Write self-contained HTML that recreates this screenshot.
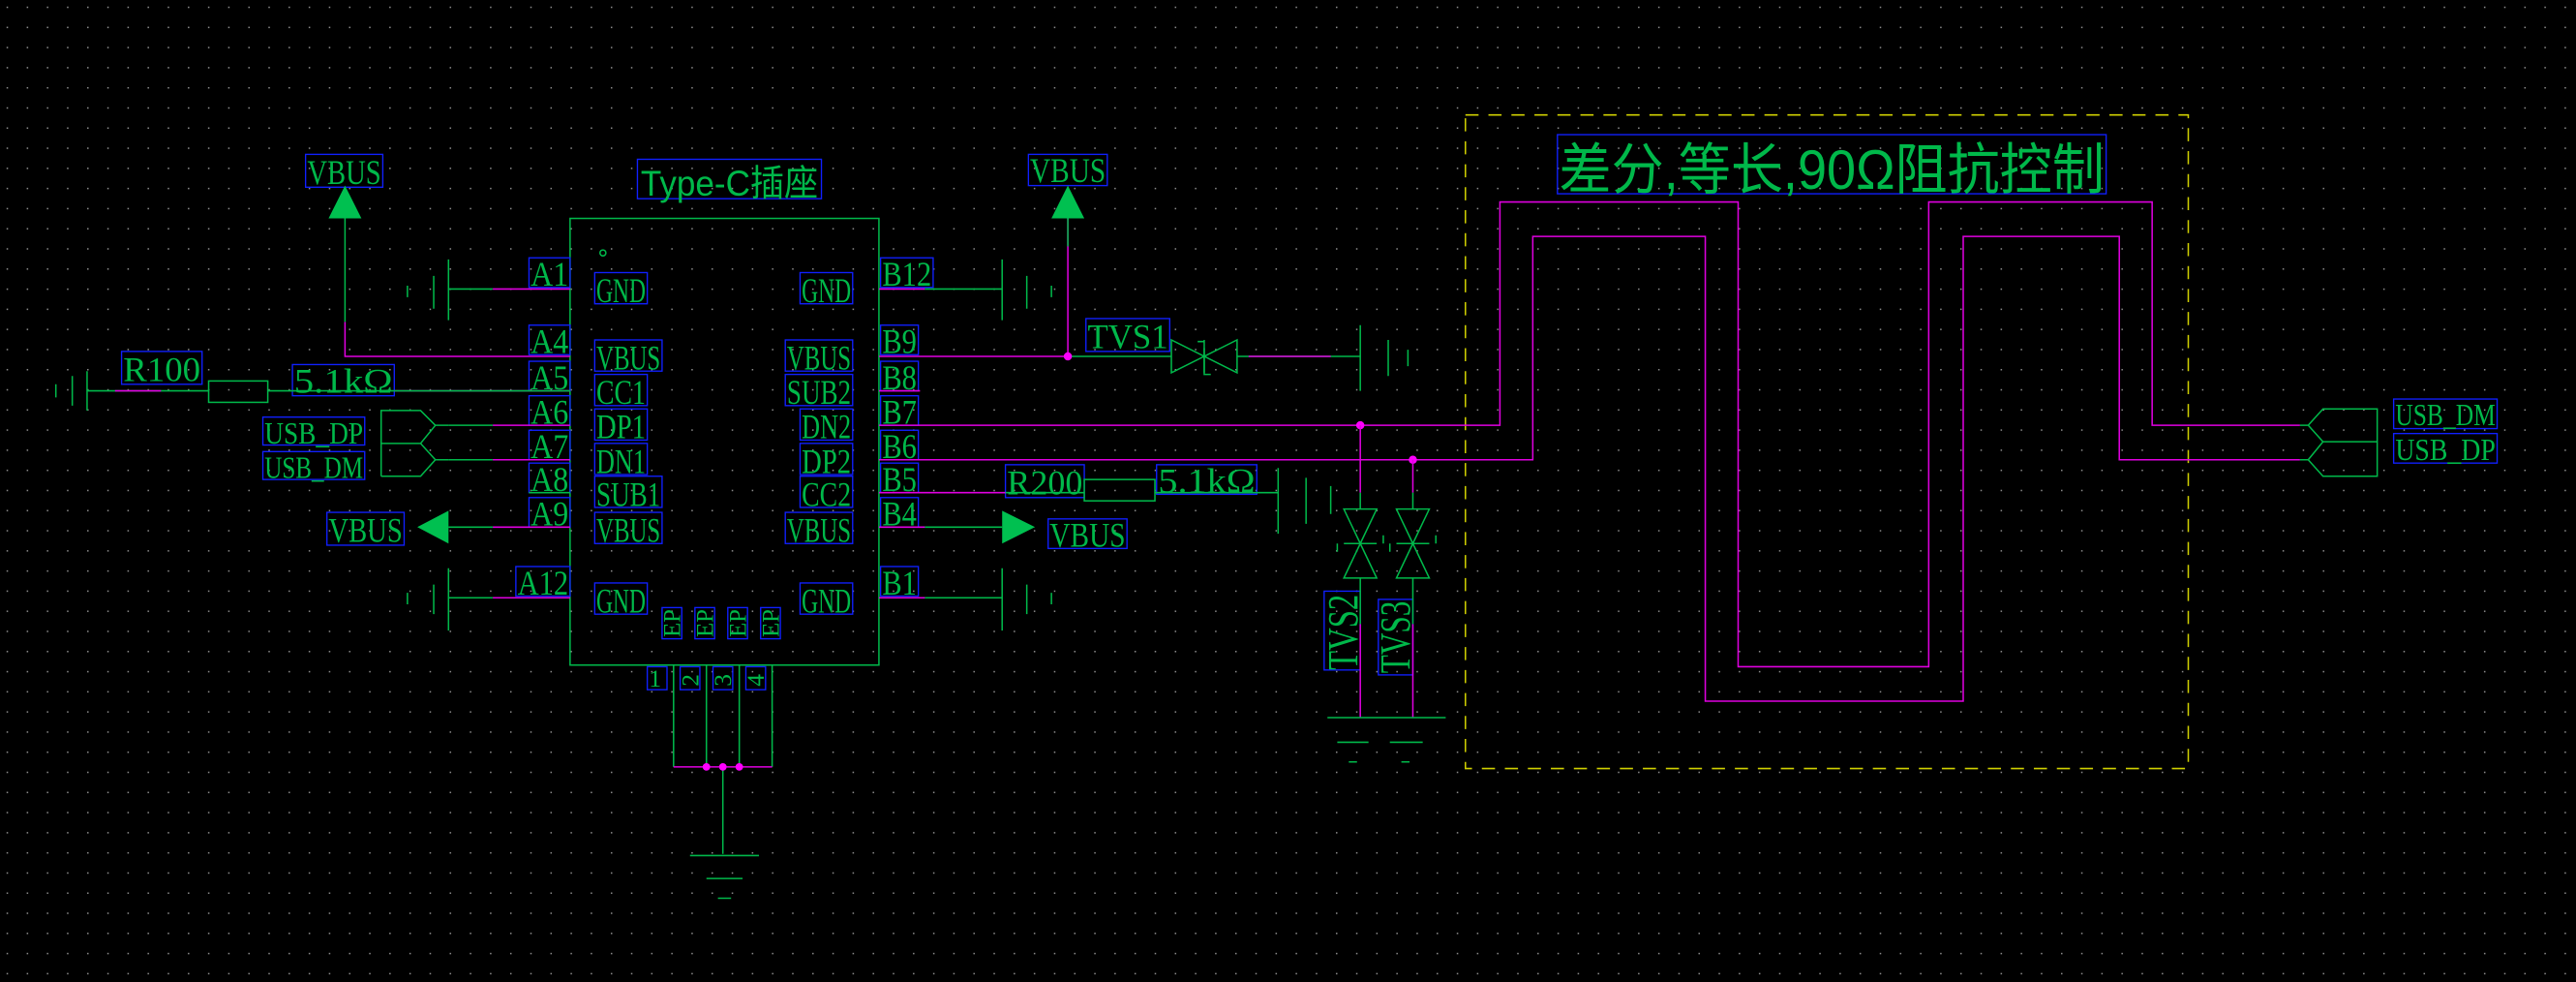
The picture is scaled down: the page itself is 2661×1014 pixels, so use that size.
<!DOCTYPE html>
<html><head><meta charset="utf-8"><style>
html,body{margin:0;padding:0;background:#000;overflow:hidden}
svg{display:block}
text{font-family:"Liberation Serif","Noto Serif CJK SC",serif;fill:#00b84a}
.s{font-family:"Liberation Sans","Noto Sans CJK SC",sans-serif}
.g{stroke:#00b84a;stroke-width:0.9;fill:none}
.m{stroke:#e000e0;stroke-width:0.9;fill:none}
.b{stroke:#1020ff;stroke-width:0.8;fill:none}
</style></head><body>
<svg width="2661" height="1014" viewBox="0 0 1568 598" preserveAspectRatio="none" xmlns="http://www.w3.org/2000/svg">
<defs><pattern id="d" width="12.26" height="12.26" patternUnits="userSpaceOnUse" x="4" y="4"><rect width="0.9" height="0.9" fill="#8a8a8a"/></pattern></defs>
<rect width="1568" height="598" fill="#000"/>
<rect width="1568" height="598" fill="url(#d)"/>

<rect x="892" y="70" width="440" height="398" fill="none" stroke="#d0d000" stroke-width="0.9" stroke-dasharray="8,6"/>
<rect class="b" x="948" y="82" width="334" height="36"/>
<text class="s" x="949" y="115" font-size="34" textLength="332" lengthAdjust="spacingAndGlyphs">差分,等长,90Ω阻抗控制</text>

<rect class="g" x="347" y="133" width="188" height="272"/>
<circle cx="367" cy="154" r="1.8" class="g"/>
<rect class="b" x="388" y="97" width="112" height="24"/>
<text class="s" x="390" y="119" font-size="22" textLength="108" lengthAdjust="spacingAndGlyphs">Type-C插座</text>

<g font-size="21">
<rect class="b" x="362" y="166" width="32" height="19"/><text x="363" y="184" textLength="30" lengthAdjust="spacingAndGlyphs">GND</text>
<rect class="b" x="362" y="207" width="41" height="19"/><text x="363" y="225" textLength="39" lengthAdjust="spacingAndGlyphs">VBUS</text>
<rect class="b" x="362" y="228" width="32" height="19"/><text x="363" y="246" textLength="30" lengthAdjust="spacingAndGlyphs">CC1</text>
<rect class="b" x="362" y="249" width="32" height="19"/><text x="363" y="267" textLength="30" lengthAdjust="spacingAndGlyphs">DP1</text>
<rect class="b" x="362" y="270" width="32" height="19"/><text x="363" y="288" textLength="30" lengthAdjust="spacingAndGlyphs">DN1</text>
<rect class="b" x="362" y="290" width="41" height="19"/><text x="363" y="308" textLength="39" lengthAdjust="spacingAndGlyphs">SUB1</text>
<rect class="b" x="362" y="312" width="41" height="19"/><text x="363" y="330" textLength="39" lengthAdjust="spacingAndGlyphs">VBUS</text>
<rect class="b" x="362" y="355" width="32" height="19"/><text x="363" y="373" textLength="30" lengthAdjust="spacingAndGlyphs">GND</text>
<rect class="b" x="487" y="166" width="32" height="19"/><text x="488" y="184" textLength="30" lengthAdjust="spacingAndGlyphs">GND</text>
<rect class="b" x="478" y="207" width="41" height="19"/><text x="479" y="225" textLength="39" lengthAdjust="spacingAndGlyphs">VBUS</text>
<rect class="b" x="478" y="228" width="41" height="19"/><text x="479" y="246" textLength="39" lengthAdjust="spacingAndGlyphs">SUB2</text>
<rect class="b" x="487" y="249" width="32" height="19"/><text x="488" y="267" textLength="30" lengthAdjust="spacingAndGlyphs">DN2</text>
<rect class="b" x="487" y="270" width="32" height="19"/><text x="488" y="288" textLength="30" lengthAdjust="spacingAndGlyphs">DP2</text>
<rect class="b" x="487" y="290" width="32" height="19"/><text x="488" y="308" textLength="30" lengthAdjust="spacingAndGlyphs">CC2</text>
<rect class="b" x="478" y="312" width="41" height="19"/><text x="479" y="330" textLength="39" lengthAdjust="spacingAndGlyphs">VBUS</text>
<rect class="b" x="487" y="355" width="32" height="19"/><text x="488" y="373" textLength="30" lengthAdjust="spacingAndGlyphs">GND</text>
<rect class="b" x="322" y="157" width="25" height="18"/><text x="323" y="174" textLength="23" lengthAdjust="spacingAndGlyphs">A1</text>
<rect class="b" x="322" y="198" width="25" height="18"/><text x="323" y="215" textLength="23" lengthAdjust="spacingAndGlyphs">A4</text>
<rect class="b" x="322" y="220" width="25" height="18"/><text x="323" y="237" textLength="23" lengthAdjust="spacingAndGlyphs">A5</text>
<rect class="b" x="322" y="241" width="25" height="18"/><text x="323" y="258" textLength="23" lengthAdjust="spacingAndGlyphs">A6</text>
<rect class="b" x="322" y="262" width="25" height="18"/><text x="323" y="279" textLength="23" lengthAdjust="spacingAndGlyphs">A7</text>
<rect class="b" x="322" y="282" width="25" height="18"/><text x="323" y="299" textLength="23" lengthAdjust="spacingAndGlyphs">A8</text>
<rect class="b" x="322" y="303" width="25" height="18"/><text x="323" y="320" textLength="23" lengthAdjust="spacingAndGlyphs">A9</text>
<rect class="b" x="314" y="345" width="33" height="18"/><text x="315" y="362" textLength="31" lengthAdjust="spacingAndGlyphs">A12</text>
<rect class="b" x="536" y="157" width="32" height="18"/><text x="537" y="174" textLength="30" lengthAdjust="spacingAndGlyphs">B12</text>
<rect class="b" x="536" y="198" width="23" height="18"/><text x="537" y="215" textLength="21" lengthAdjust="spacingAndGlyphs">B9</text>
<rect class="b" x="536" y="220" width="23" height="18"/><text x="537" y="237" textLength="21" lengthAdjust="spacingAndGlyphs">B8</text>
<rect class="b" x="536" y="241" width="23" height="18"/><text x="537" y="258" textLength="21" lengthAdjust="spacingAndGlyphs">B7</text>
<rect class="b" x="536" y="262" width="23" height="18"/><text x="537" y="279" textLength="21" lengthAdjust="spacingAndGlyphs">B6</text>
<rect class="b" x="536" y="282" width="23" height="18"/><text x="537" y="299" textLength="21" lengthAdjust="spacingAndGlyphs">B5</text>
<rect class="b" x="536" y="303" width="23" height="18"/><text x="537" y="320" textLength="21" lengthAdjust="spacingAndGlyphs">B4</text>
<rect class="b" x="536" y="345" width="23" height="18"/><text x="537" y="362" textLength="21" lengthAdjust="spacingAndGlyphs">B1</text>
<rect class="b" x="186" y="94" width="47" height="20"/><text x="187" y="112" textLength="45" lengthAdjust="spacingAndGlyphs">VBUS</text>
<rect class="b" x="626" y="94" width="48" height="19"/><text x="627" y="111" textLength="46" lengthAdjust="spacingAndGlyphs">VBUS</text>
<rect class="b" x="199" y="312" width="47" height="20"/><text x="200" y="330" textLength="45" lengthAdjust="spacingAndGlyphs">VBUS</text>
<rect class="b" x="638" y="316" width="48" height="18"/><text x="639" y="333" textLength="46" lengthAdjust="spacingAndGlyphs">VBUS</text>
<rect class="b" x="74" y="214" width="49" height="20"/><text x="75" y="232" textLength="47" lengthAdjust="spacingAndGlyphs">R100</text>
<rect class="b" x="612" y="283" width="48" height="20"/><text x="613" y="301" textLength="46" lengthAdjust="spacingAndGlyphs">R200</text>
<rect class="b" x="178" y="222" width="62" height="19"/><text x="179" y="239" textLength="60" lengthAdjust="spacingAndGlyphs">5.1kΩ</text>
<rect class="b" x="704" y="283" width="61" height="18"/><text x="705" y="300" textLength="59" lengthAdjust="spacingAndGlyphs">5.1kΩ</text>
<rect class="b" x="661" y="194" width="51" height="20"/><text x="662" y="212" textLength="49" lengthAdjust="spacingAndGlyphs">TVS1</text>
<rect class="b" x="160" y="254" width="62" height="17"/><text x="161" y="270" font-size="19" textLength="60" lengthAdjust="spacingAndGlyphs">USB_DP</text>
<rect class="b" x="160" y="275" width="62" height="17"/><text x="161" y="291" font-size="19" textLength="60" lengthAdjust="spacingAndGlyphs">USB_DM</text>
<rect class="b" x="1457" y="243" width="63" height="18"/><text x="1458" y="259" font-size="19" textLength="61" lengthAdjust="spacingAndGlyphs">USB_DM</text>
<rect class="b" x="1457" y="264" width="63" height="18"/><text x="1458" y="280" font-size="19" textLength="61" lengthAdjust="spacingAndGlyphs">USB_DP</text>
<rect class="b" x="806" y="360" width="22" height="48"/><text transform="translate(826,408) rotate(-90)" textLength="46" lengthAdjust="spacingAndGlyphs" font-size="26">TVS2</text>
<rect class="b" x="839" y="365" width="21" height="46"/><text transform="translate(858,410) rotate(-90)" textLength="44" lengthAdjust="spacingAndGlyphs" font-size="26">TVS3</text>
<g font-size="15">
<rect class="b" x="403" y="370" width="12" height="19"/><text transform="translate(414,388) rotate(-90)" textLength="17" lengthAdjust="spacingAndGlyphs">EP</text>
<rect class="b" x="423" y="370" width="12" height="19"/><text transform="translate(434,388) rotate(-90)" textLength="17" lengthAdjust="spacingAndGlyphs">EP</text>
<rect class="b" x="443" y="370" width="12" height="19"/><text transform="translate(454,388) rotate(-90)" textLength="17" lengthAdjust="spacingAndGlyphs">EP</text>
<rect class="b" x="463" y="370" width="12" height="19"/><text transform="translate(474,388) rotate(-90)" textLength="17" lengthAdjust="spacingAndGlyphs">EP</text>
<rect class="b" x="394" y="406" width="12" height="14"/><text x="395" y="418">1</text>
<rect class="b" x="414" y="406" width="12" height="14"/><text transform="translate(425,418) rotate(-90)">2</text>
<rect class="b" x="434" y="406" width="12" height="14"/><text transform="translate(445,418) rotate(-90)">3</text>
<rect class="b" x="454" y="406" width="12" height="14"/><text transform="translate(465,418) rotate(-90)">4</text>
</g>
</g>

<g>
<path class="g" d="M273 176H300M273 364H300M273 321H300M273 259H300M273 280H300"/>
<path class="m" d="M300 176H347M300 364H347M300 321H347M300 259H347M300 280H347M210 196V217H347M240 238H347"/>
<path class="g" d="M347 300H322M347 238H240"/>
<path class="g" d="M210 133V196"/>
<path class="g" d="M273 158V195M264 168V188M248 174V181"/>
<path class="g" d="M273 346V384M264 356V374M248 361V368"/>
<polygon points="210,113 200,133 220,133" fill="#00c050"/>
<polygon points="254,321 273,311 273,331" fill="#00c050"/>
<polygon points="650,113 640,133 660,133" fill="#00c050"/>
<polygon points="630,321 610,311 610,331" fill="#00c050"/>
<path class="g" d="M53 226V250M44 229V247M34 234V242M53 238H127"/>
<path class="m" d="M70 238H98"/>
<rect class="g" x="127" y="232" width="36" height="13"/>
<path class="g" d="M163 238H240"/>
<path class="g" d="M232 250H256L265 259L256 270H232ZM265 259H273M232 270H256L265 280L256 290H232M265 280H273"/>
<path class="g" d="M232 250V290"/>
</g>

<path class="m" d="M535 176H563M535 217H650V133M535 238H560M535 300H612M535 321H563M535 364H563"/>
<path class="g" d="M563 176H610M563 321H610M563 364H610M650 133V150M650 217H713M753 217H828"/>
<path class="m" d="M760 217H810"/>
<path class="g" d="M610 158V195M625 168V188M640 174V181"/>
<path class="g" d="M610 346V384M625 356V374M640 361V368"/>
<path class="g" d="M828 198V238M845 207V229M857 213V223"/>
<path class="g" d="M713 207V227L753 207V227ZM733 207V220M733 213V227"/>
<path class="g" d="M733 212V228H737M733 208H729"/>
<rect class="g" x="660" y="292" width="43" height="13"/>
<path class="g" d="M612 300H660M703 300H778M778 285V325M795 291V319M810 296V313"/>
<path class="m" d="M535 259H913V123H1058V406H1174V123H1310V259H1400"/>
<path class="m" d="M535 280H933V144H1038V427H1195V144H1290V280H1400"/>
<circle cx="650" cy="217" r="2.5" fill="#ff00ff"/>
<circle cx="828" cy="259" r="2.5" fill="#ff00ff"/>
<circle cx="860" cy="280" r="2.5" fill="#ff00ff"/>
<path class="m" d="M828 259V300M860 280V300M828 380V437M860 380V437"/>
<path class="g" d="M828 300V310M860 300V310M828 352V380M860 352V380"/>
<path class="g" d="M818 310H838L828 331L818 352H838L828 331ZM818 331H838M814 336V331M842 326V331"/>
<path class="g" d="M850 310H870L860 331L850 352H870L860 331ZM850 331H870M846 336V331M874 326V331"/>
<path class="g" d="M808 437H880M814 452H833M846 452H866M821 464H826M853 464H858"/>
<path class="g" d="M1400 259H1405L1414 249H1447V290H1414L1405 280H1400M1405 259L1414 269H1447M1414 269L1405 280"/>
<path class="g" d="M410 405V467M430 405V467M450 405V467M470 405V467M440 467V520M420 521H462M430 535H452M437 547H445"/>
<path class="m" d="M410 467H470"/>
<circle cx="430" cy="467" r="2.3" fill="#ff00ff"/>
<circle cx="440" cy="467" r="2.3" fill="#ff00ff"/>
<circle cx="450" cy="467" r="2.3" fill="#ff00ff"/>
</svg>
</body></html>
